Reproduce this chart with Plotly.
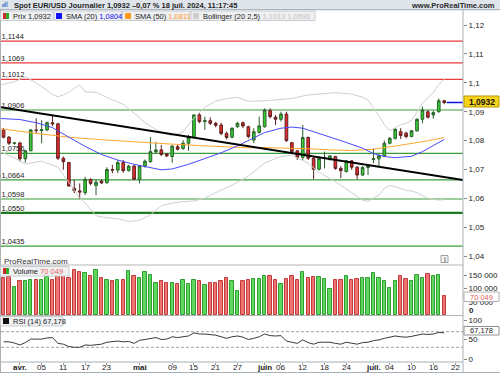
import pandas as pd
import plotly.graph_objects as go

# ---------------- data ----------------
candle_dates = [d.strftime("%Y-%m-%d") for d in pd.bdate_range("2024-03-27", "2024-07-18")]

price_open = [1.0837, 1.0812, 1.0791, 1.0792, 1.0737, 1.0765, 1.0837, 1.0835, 1.0837, 1.0862,
              1.0858, 1.0739, 1.0724, 1.0635, 1.0626, 1.0620, 1.0666, 1.0645, 1.0660, 1.0654,
              1.0700, 1.0698, 1.0724, 1.0696, 1.0712, 1.0666, 1.0712, 1.0727, 1.0761, 1.0768,
              1.0754, 1.0745, 1.0779, 1.0773, 1.0791, 1.0811, 1.0889, 1.0866, 1.0869, 1.0860,
              1.0854, 1.0825, 1.0812, 1.0848, 1.0862, 1.0848, 1.0802, 1.0828, 1.0848, 1.0904,
              1.0881, 1.0874, 1.0892, 1.0793, 1.0765, 1.0742, 1.0811, 1.0739, 1.0701, 1.0739,
              1.0735, 1.0745, 1.0704, 1.0693, 1.0730, 1.0708, 1.0681, 1.0707, 1.0735, 1.0737,
              1.0747, 1.0791, 1.0808, 1.0831, 1.0826, 1.0814, 1.0834, 1.0874, 1.0900, 1.0889,
              1.0900, 1.0938]
price_high = [1.0843, 1.0816, 1.0795, 1.0796, 1.0768, 1.0840, 1.0877, 1.0871, 1.0866, 1.0889,
              1.0862, 1.0745, 1.0727, 1.0664, 1.0652, 1.0675, 1.0670, 1.0666, 1.0666, 1.0708,
              1.0716, 1.0733, 1.0733, 1.0716, 1.0716, 1.0716, 1.0735, 1.0812, 1.0796, 1.0785,
              1.0757, 1.0785, 1.0788, 1.0802, 1.0820, 1.0891, 1.0895, 1.0883, 1.0881, 1.0865,
              1.0862, 1.0831, 1.0846, 1.0864, 1.0866, 1.0852, 1.0843, 1.0883, 1.0912, 1.0912,
              1.0889, 1.0900, 1.0900, 1.0796, 1.0768, 1.0854, 1.0814, 1.0745, 1.0745, 1.0762,
              1.0750, 1.0747, 1.0712, 1.0733, 1.0733, 1.0712, 1.0712, 1.0716, 1.0773, 1.0752,
              1.0800, 1.0812, 1.0843, 1.0843, 1.0831, 1.0837, 1.0877, 1.0918, 1.0906, 1.0904,
              1.0946, 1.0941]
price_low = [1.0808, 1.0785, 1.0786, 1.0727, 1.0724, 1.0763, 1.0825, 1.0791, 1.0833, 1.0850,
             1.0733, 1.0699, 1.0641, 1.0618, 1.0598, 1.0612, 1.0645, 1.0611, 1.0650, 1.0652,
             1.0687, 1.0687, 1.0689, 1.0693, 1.0664, 1.0652, 1.0706, 1.0724, 1.0756, 1.0747,
             1.0743, 1.0724, 1.0766, 1.0768, 1.0765, 1.0808, 1.0860, 1.0837, 1.0854, 1.0846,
             1.0819, 1.0804, 1.0808, 1.0845, 1.0843, 1.0808, 1.0791, 1.0825, 1.0845, 1.0877,
             1.0854, 1.0866, 1.0796, 1.0758, 1.0733, 1.0733, 1.0733, 1.0666, 1.0697, 1.0704,
             1.0731, 1.0699, 1.0670, 1.0690, 1.0699, 1.0666, 1.0677, 1.0681, 1.0722, 1.0712,
             1.0743, 1.0787, 1.0804, 1.0806, 1.0808, 1.0812, 1.0831, 1.0860, 1.0877, 1.0876,
             1.0897, 1.0926]
price_close = [1.0812, 1.0791, 1.0792, 1.0737, 1.0765, 1.0837, 1.0835, 1.0838, 1.0862, 1.0858,
               1.0739, 1.0727, 1.0643, 1.0627, 1.0622, 1.0666, 1.0652, 1.0656, 1.0654, 1.0700,
               1.0698, 1.0724, 1.0696, 1.0712, 1.0666, 1.0712, 1.0729, 1.0762, 1.0768, 1.0752,
               1.0747, 1.0781, 1.0770, 1.0791, 1.0811, 1.0889, 1.0866, 1.0869, 1.0860, 1.0853,
               1.0825, 1.0811, 1.0843, 1.0860, 1.0851, 1.0814, 1.0831, 1.0851, 1.0906, 1.0883,
               1.0874, 1.0892, 1.0800, 1.0762, 1.0742, 1.0811, 1.0739, 1.0701, 1.0739, 1.0741,
               1.0747, 1.0704, 1.0696, 1.0730, 1.0708, 1.0681, 1.0707, 1.0712, 1.0737, 1.0748,
               1.0791, 1.0808, 1.0839, 1.0818, 1.0814, 1.0834, 1.0874, 1.0906, 1.0881, 1.0897,
               1.0938, 1.0932]
volume = [138000, 142000, 107000, 128000, 128000, 133000, 133000, 133000, 142000, 130000,
          146000, 146000, 138000, 171000, 163000, 158000, 146000, 171000, 140000, 130000,
          128000, 133000, 130000, 166000, 146000, 140000, 160000, 151000, 121000, 127000,
          121000, 121000, 118000, 130000, 118000, 130000, 127000, 111000, 121000, 121000,
          126000, 141000, 126000, 92000, 128000, 133000, 135000, 135000, 145000, 145000,
          133000, 117000, 135000, 145000, 133000, 160000, 141000, 143000, 143000, 135000,
          98000, 133000, 133000, 146000, 133000, 135000, 138000, 138000, 158000, 140000,
          127000, 102000, 128000, 148000, 135000, 127000, 151000, 138000, 155000, 145000,
          152000, 70049]
rsi14 = [44, 44, 41, 36, 42, 51, 51, 51, 54, 55,
         40, 38, 32, 30, 30, 36, 35, 36, 38, 43,
         44, 46, 44, 45, 40, 48, 50, 52, 55, 50,
         51, 57, 55, 57, 59, 67, 64, 64, 63, 61,
         57, 53, 57, 59, 56, 50, 53, 57, 64, 60,
         59, 60, 46, 43, 40, 49, 42, 38, 43, 43,
         43, 40, 38, 43, 41, 38, 42, 43, 47, 49,
         53, 56, 59, 57, 56, 58, 61.5, 64, 63, 64,
         68, 67.178]

sma20_dates = ["2024-03-26", "2024-03-27", "2024-04-01", "2024-04-04", "2024-04-09", "2024-04-12",
               "2024-04-17", "2024-04-22", "2024-04-25", "2024-04-30", "2024-05-03", "2024-05-07",
               "2024-05-09", "2024-05-14", "2024-05-17", "2024-05-22", "2024-05-27", "2024-05-29",
               "2024-06-03", "2024-06-06", "2024-06-10", "2024-06-12", "2024-06-17", "2024-06-21",
               "2024-06-27", "2024-07-01", "2024-07-03", "2024-07-05", "2024-07-10", "2024-07-12",
               "2024-07-16", "2024-07-18"]
sma20_values = [1.0877, 1.0876, 1.0873, 1.0862, 1.0845, 1.0812, 1.0780, 1.0752, 1.0733, 1.0718,
                1.0706, 1.0699, 1.0702, 1.0718, 1.0738, 1.0758, 1.0782, 1.0800, 1.0828, 1.0843,
                1.0847, 1.0843, 1.0825, 1.0800, 1.0774, 1.0755, 1.0745, 1.0741, 1.0746, 1.0762,
                1.0783, 1.0804]

sma50_dates = ["2024-03-26", "2024-03-27", "2024-04-04", "2024-04-12", "2024-04-22", "2024-04-30",
               "2024-05-08", "2024-05-16", "2024-05-24", "2024-05-29", "2024-06-03", "2024-06-07",
               "2024-06-13", "2024-06-19", "2024-06-25", "2024-07-01", "2024-07-04", "2024-07-09",
               "2024-07-12", "2024-07-16", "2024-07-18"]
sma50_values = [1.0841, 1.0840, 1.0825, 1.0812, 1.0803, 1.0795, 1.0789, 1.0783, 1.0778, 1.0775,
                1.0776, 1.0775, 1.0772, 1.0768, 1.0766, 1.0770, 1.0778, 1.0787, 1.0796, 1.0803,
                1.0811]

bb_upper_dates = ["2024-03-26", "2024-03-27", "2024-03-29", "2024-04-02", "2024-04-04", "2024-04-05",
                  "2024-04-09", "2024-04-10", "2024-04-11", "2024-04-12", "2024-04-16", "2024-04-17",
                  "2024-04-19", "2024-04-24", "2024-04-26", "2024-04-30", "2024-05-02", "2024-05-06",
                  "2024-05-08", "2024-05-09", "2024-05-13", "2024-05-15", "2024-05-17", "2024-05-21",
                  "2024-05-23", "2024-05-27", "2024-05-29", "2024-06-03", "2024-06-06", "2024-06-10",
                  "2024-06-13", "2024-06-18", "2024-06-20", "2024-06-25", "2024-06-27", "2024-06-28",
                  "2024-07-01", "2024-07-02", "2024-07-03", "2024-07-04", "2024-07-05", "2024-07-08",
                  "2024-07-09", "2024-07-10", "2024-07-11", "2024-07-12", "2024-07-15", "2024-07-16",
                  "2024-07-17", "2024-07-18"]
bb_upper_values = [1.0992, 1.0995, 1.1004, 1.1021, 1.1000, 1.0987, 1.0960, 1.0952, 1.0958, 1.0968,
                   1.0993, 1.0969, 1.0967, 1.0941, 1.0926, 1.0895, 1.0862, 1.0838, 1.0822, 1.0817,
                   1.0830, 1.0879, 1.0915, 1.0937, 1.0945, 1.0950, 1.0936, 1.0938, 1.0942, 1.0946,
                   1.0958, 1.0964, 1.0966, 1.0961, 1.0950, 1.0940, 1.0915, 1.0886, 1.0855, 1.0835,
                   1.0845, 1.0855, 1.0860, 1.0870, 1.0898, 1.0930, 1.0948, 1.0966, 1.0994, 1.1013]

bb_lower_dates = ["2024-03-26", "2024-03-27", "2024-03-29", "2024-04-02", "2024-04-05", "2024-04-10",
                  "2024-04-12", "2024-04-16", "2024-04-17", "2024-04-19", "2024-04-23", "2024-04-25",
                  "2024-04-29", "2024-05-01", "2024-05-03", "2024-05-07", "2024-05-09", "2024-05-13",
                  "2024-05-15", "2024-05-17", "2024-05-21", "2024-05-24", "2024-05-29", "2024-06-03",
                  "2024-06-06", "2024-06-10", "2024-06-13", "2024-06-17", "2024-06-20", "2024-06-25",
                  "2024-06-27", "2024-06-28", "2024-07-01", "2024-07-02", "2024-07-03", "2024-07-04",
                  "2024-07-05", "2024-07-08", "2024-07-09", "2024-07-10", "2024-07-11", "2024-07-12",
                  "2024-07-15", "2024-07-16", "2024-07-17", "2024-07-18"]
bb_lower_values = [1.0762, 1.0757, 1.0740, 1.0719, 1.0729, 1.0708, 1.0656, 1.0601, 1.0584, 1.0540,
                   1.0533, 1.0530, 1.0520, 1.0525, 1.0543, 1.0575, 1.0584, 1.0589, 1.0591, 1.0601,
                   1.0620, 1.0646, 1.0677, 1.0723, 1.0745, 1.0750, 1.0722, 1.0690, 1.0658, 1.0619,
                   1.0594, 1.0590, 1.0600, 1.0612, 1.0635, 1.0645, 1.0640, 1.0635, 1.0628, 1.0626,
                   1.0620, 1.0610, 1.0601, 1.0598, 1.0594, 1.0596]

trend_dates = ["2024-03-26", "2024-07-25"]
trend_values = [1.0917, 1.0659]

resistance_levels = [1.1144, 1.1069, 1.1012]
support_levels = [1.0906, 1.0756, 1.0664, 1.0598, 1.0435]
major_support = [1.0550]

last_price = 1.0932
last_volume = 70049
last_rsi = 67.178

price_ticks = [1.04, 1.05, 1.06, 1.07, 1.08, 1.09, 1.10, 1.11, 1.12]
price_tick_text = ["1,04", "1,05", "1,06", "1,07", "1,08", "1,09", "1,1", "1,11", "1,12"]
vol_ticks = [50000, 100000, 150000]
vol_tick_text = ["50 000", "100 000", "150 000"]
rsi_ticks = [0, 50, 100]
rsi_tick_text = ["0", "50", "100"]
date_ticks = ["2024-04-01", "2024-04-05", "2024-04-11", "2024-04-17", "2024-04-23",
              "2024-05-01", "2024-05-09", "2024-05-15", "2024-05-21", "2024-05-27",
              "2024-06-03", "2024-06-06", "2024-06-12", "2024-06-18", "2024-06-24",
              "2024-07-01", "2024-07-04", "2024-07-10", "2024-07-16", "2024-07-22"]
date_tick_text = ["<b>avr.</b>", "05", "11", "17", "23", "<b>mai</b>", "09", "15", "21", "27",
                  "<b>juin</b>", "06", "12", "18", "24", "<b>juil.</b>", "04", "10", "16", "22"]

# ---------------- geometry helpers ----------------
W, H = 500, 375
ML, MR, MT, MB = 1, 37, 10, 13
PW, PH = W - ML - MR, H - MT - MB

def px(X):
    return (X - ML) / PW

def py(Y):
    return (H - MB - Y) / PH

# trading-day axis positions
axis_days = [d.strftime("%Y-%m-%d") for d in pd.bdate_range("2024-03-26", "2024-07-31")]
pos = {d: i for i, d in enumerate(axis_days)}
def P(dates):
    return [pos[d] for d in dates]

xc = P(candle_dates)
FONT = "Liberation Sans, Arial, sans-serif"

fig = go.Figure()

# left level labels (drawn first, behind candles)
levels_all = resistance_levels + support_levels[:4] + major_support + support_levels[4:]
fig.add_trace(go.Scatter(
    x=[0.62] * len(levels_all), y=levels_all,
    text=[f"{v:.4f}".replace(".", ",") for v in levels_all],
    mode="text", textposition="top right",
    textfont=dict(size=7.5, color="#222", family=FONT),
    hoverinfo="skip", showlegend=False, cliponaxis=False))

# Bollinger
fig.add_trace(go.Scatter(x=P(bb_upper_dates), y=bb_upper_values, mode="lines",
                         line=dict(color="#cfcfcf", width=1), showlegend=False, hoverinfo="skip"))
fig.add_trace(go.Scatter(x=P(bb_lower_dates), y=bb_lower_values, mode="lines",
                         line=dict(color="#cfcfcf", width=1), showlegend=False, hoverinfo="skip"))
# SMAs
fig.add_trace(go.Scatter(x=P(sma50_dates), y=sma50_values, mode="lines",
                         line=dict(color="#ffa630", width=1), showlegend=False, hoverinfo="skip"))
fig.add_trace(go.Scatter(x=P(sma20_dates), y=sma20_values, mode="lines",
                         line=dict(color="#4848ff", width=1), showlegend=False, hoverinfo="skip"))

# candles
fig.add_trace(go.Candlestick(
    x=xc, open=price_open, high=price_high, low=price_low, close=price_close,
    increasing=dict(fillcolor="#33cc33", line=dict(color="#2b5e2b", width=1)),
    decreasing=dict(fillcolor="#e52b2b", line=dict(color="#5e2222", width=1)),
    whiskerwidth=0, showlegend=False, hoverinfo="skip"))

# trend line
fig.add_trace(go.Scatter(x=P(trend_dates), y=trend_values, mode="lines",
                         line=dict(color="#000000", width=2), showlegend=False, hoverinfo="skip"))

X_LO = 1 + (ML - 3.55) / 5.44
X_HI = 1 + (W - MR - 3.55) / 5.44

# last price line
fig.add_trace(go.Scatter(x=[xc[-1] + 0.45, X_HI], y=[last_price, last_price], mode="lines",
                         line=dict(color="#1010e0", width=1.5), showlegend=False, hoverinfo="skip"))

# volume
up = [c >= o for o, c in zip(price_open, price_close)]
fig.add_trace(go.Bar(
    x=xc, y=volume, width=0.62, yaxis="y2",
    marker=dict(color=["#5ed85e" if u else "#ee7474" for u in up],
                line=dict(color=["#2f9e2f" if u else "#c23a3a" for u in up], width=1)),
    showlegend=False, hoverinfo="skip"))

# RSI
fig.add_trace(go.Scatter(x=xc, y=rsi14, yaxis="y3", mode="lines",
                         line=dict(color="#3a3a3a", width=1), showlegend=False, hoverinfo="skip"))

# ---------------- shapes ----------------
shapes = []
for v in resistance_levels:
    shapes.append(dict(type="line", xref="paper", yref="y", x0=0, x1=1, y0=v, y1=v,
                       line=dict(color="#e83a3a", width=1.2), layer="below"))
for v in support_levels:
    shapes.append(dict(type="line", xref="paper", yref="y", x0=0, x1=1, y0=v, y1=v,
                       line=dict(color="#3a9d3a", width=1.2), layer="below"))
for v in major_support:
    shapes.append(dict(type="line", xref="paper", yref="y", x0=0, x1=1, y0=v, y1=v,
                       line=dict(color="#1d7a1d", width=2.2), layer="below"))
for v in (30, 70):
    shapes.append(dict(type="line", xref="paper", yref="y3", x0=0, x1=1, y0=v, y1=v,
                       line=dict(color="#a0a0a0", width=1, dash="3px,2px"), layer="below"))

def rect(X0, Y0, X1, Y1, fill, line=None, lw=1):
    shapes.append(dict(type="rect", xref="paper", yref="paper",
                       x0=px(X0), x1=px(X1), y0=py(Y1), y1=py(Y0),
                       fillcolor=fill, line=dict(color=line or fill, width=lw if line else 0),
                       layer="above"))

def hline(X0, X1, Y, color, w=1):
    shapes.append(dict(type="line", xref="paper", yref="paper", x0=px(X0), x1=px(X1),
                       y0=py(Y), y1=py(Y), line=dict(color=color, width=w), layer="above"))

def vline(X, Y0, Y1, color, w=1):
    shapes.append(dict(type="line", xref="paper", yref="paper", x0=px(X), x1=px(X),
                       y0=py(Y0), y1=py(Y1), line=dict(color=color, width=w), layer="above"))

# title bar
rect(0, 0, 500, 9.5, "#dfe5ea")
hline(0, 500, 9.7, "#9aa6b2")
# small icon
vline(3, 7, 4, "#3a6fc0", 1.2)
vline(5, 7, 2.5, "#3a6fc0", 1.2)
vline(7, 7, 1.5, "#5a90d8", 1.2)

# panel frame
vline(0.5, 10, 372, "#a9b0b6")
vline(W - MR, 10, 372, "#a9b0b6")
hline(0, W - MR, 265, "#b5b5b5")
hline(0, W - MR, 315.5, "#b5b5b5")
hline(0, W - MR, 362, "#a9b0b6")
hline(0, 500, 372.5, "#a9b0b6")

# legend row boxes
rect(0.5, 11, 53, 20.5, "#eef0f2", "#c8ccd0")
rect(54, 11, 121.5, 20.5, "#eef0f2", "#c8ccd0")
rect(122.5, 11, 190, 20.5, "#eef0f2", "#c8ccd0")
rect(191, 11, 315, 20.5, "#eef0f2", "#c8ccd0")
rect(3, 13, 6, 19, "#d22a2a")
rect(6, 13, 9, 19, "#2aae2a")
rect(56, 13, 62, 19, "#1010f0")
rect(125, 13, 131, 19, "#ff9a1a")
rect(193, 13, 199, 19, "#cfcfcf")
# volume / rsi legend boxes
rect(0.5, 266.5, 69, 276, "#eef0f2", "#c8ccd0")
rect(3, 268, 6, 274, "#d22a2a")
rect(6, 268, 9, 274, "#2aae2a")
rect(0.5, 316.5, 63, 326, "#eef0f2", "#c8ccd0")
rect(3, 318, 9, 324, "#111111")
# value tags on right axis
rect(464, 96, 499, 107, "#f6d31a", "#b59b00")
rect(464, 292, 499, 301.5, "#ffffff", "#b0b0b0")
rect(464, 326.5, 499, 335, "#ffffff", "#909090")
# info icon
rect(441, 255.5, 448, 262.5, "#f4f4f4", "#a0a0a0")

# ---------------- annotations ----------------
ann = []
def text(X, Y, s, size=7.5, color="#222", anchor="left", bold=False):
    ann.append(dict(xref="paper", yref="paper", x=px(X), y=py(Y), text=(f"<b>{s}</b>" if bold else s),
                    showarrow=False, xanchor=anchor, yanchor="middle",
                    font=dict(size=size, color=color, family=FONT)))

text(12, 5, "Spot EUR/USD Journalier 1,0932 –0,07 % 18 juil. 2024, 11:17:45", 7.5, "#1e1e1e", bold=True)
text(497, 5, "www.ProRealTime.com", 7.5, "#2a2a2a", "right", bold=True)
text(11, 16, "Prix 1,0932", 7.5)
text(64, 16, "SMA (20) <span style='color:#1010f0'>1,0804</span>", 7.5)
text(133, 16, "SMA (50) <span style='color:#ff9a1a'>1,0811</span>", 7.5)
text(201, 16, "Bollinger (20 2,5) <span style='color:#c4c4c4'>1,1013 1,0596</span>", 7.5)
text(2, 261, "ProRealTime.com", 8, "#333")
text(11, 271.5, "Volume <span style='color:#e86060'>70 049</span>", 7.5)
text(11, 321.5, "RSI (14) 67,178", 7.5)
text(481.5, 101.8, f"{last_price:.4f}".replace(".", ","), 8.5, "#111", "center", bold=True)
text(481.5, 297, f"{last_volume:,}".replace(",", " "), 7.5, "#e86060", "center")
text(481.5, 330.9, f"{last_rsi:.3f}".replace(".", ","), 7.5, "#222", "center")
text(444.5, 259, "i", 6.5, "#666", "center", bold=True)
text(467, 310, "0", 8, "#222", "left", bold=True)

# x-axis date labels placed under the RSI panel
for d, lab in zip(date_ticks, date_tick_text):
    ann.append(dict(xref="x", yref="paper", x=pos[d], y=py(367.5), text=lab, showarrow=False,
                    xanchor="center", yanchor="middle",
                    font=dict(size=8, color="#222", family=FONT)))

# ---------------- layout ----------------
tickfont = dict(size=8, color="#222", family=FONT)
fig.update_layout(
    width=W, height=H, autosize=False,
    margin=dict(l=ML, r=MR, t=MT, b=MB, pad=0, autoexpand=False),
    paper_bgcolor="white", plot_bgcolor="white",
    showlegend=False, bargap=0,
    shapes=shapes, annotations=ann,
    xaxis=dict(range=[X_LO, X_HI], domain=[0, 1], anchor="y3",
               tickvals=P(date_ticks[:-1]) + [pos["2024-07-22"]], showticklabels=False,
               ticks="outside", ticklen=2, tickcolor="#999",
               showgrid=False, zeroline=False, showline=False,
               rangeslider=dict(visible=False), fixedrange=True),
    yaxis=dict(domain=[py(265), 1], range=[1.0906 - 155 / 2890, 1.0906 + 100 / 2890],
               side="right", anchor="x", tickvals=price_ticks, ticktext=price_tick_text,
               ticks="outside", ticklen=3, tickcolor="#888", tickfont=tickfont,
               showgrid=False, zeroline=False, showline=False),
    yaxis2=dict(domain=[py(315), py(265)], range=[0, 50 * 3760],
                side="right", anchor="x", tickvals=vol_ticks, ticktext=vol_tick_text,
                ticks="outside", ticklen=3, tickcolor="#888", tickfont=tickfont,
                showgrid=False, zeroline=False, showline=False),
    yaxis3=dict(domain=[0, py(316)], range=[-3 * 100 / 39, 43 * 100 / 39],
                side="right", anchor="x", tickvals=rsi_ticks, ticktext=rsi_tick_text,
                ticks="outside", ticklen=3, tickcolor="#888", tickfont=tickfont,
                showgrid=False, zeroline=False, showline=False),
)

fig.write_html("out.html", config={"displayModeBar": False},
               post_script="document.body.style.margin='0px';document.body.style.overflow='hidden';")
